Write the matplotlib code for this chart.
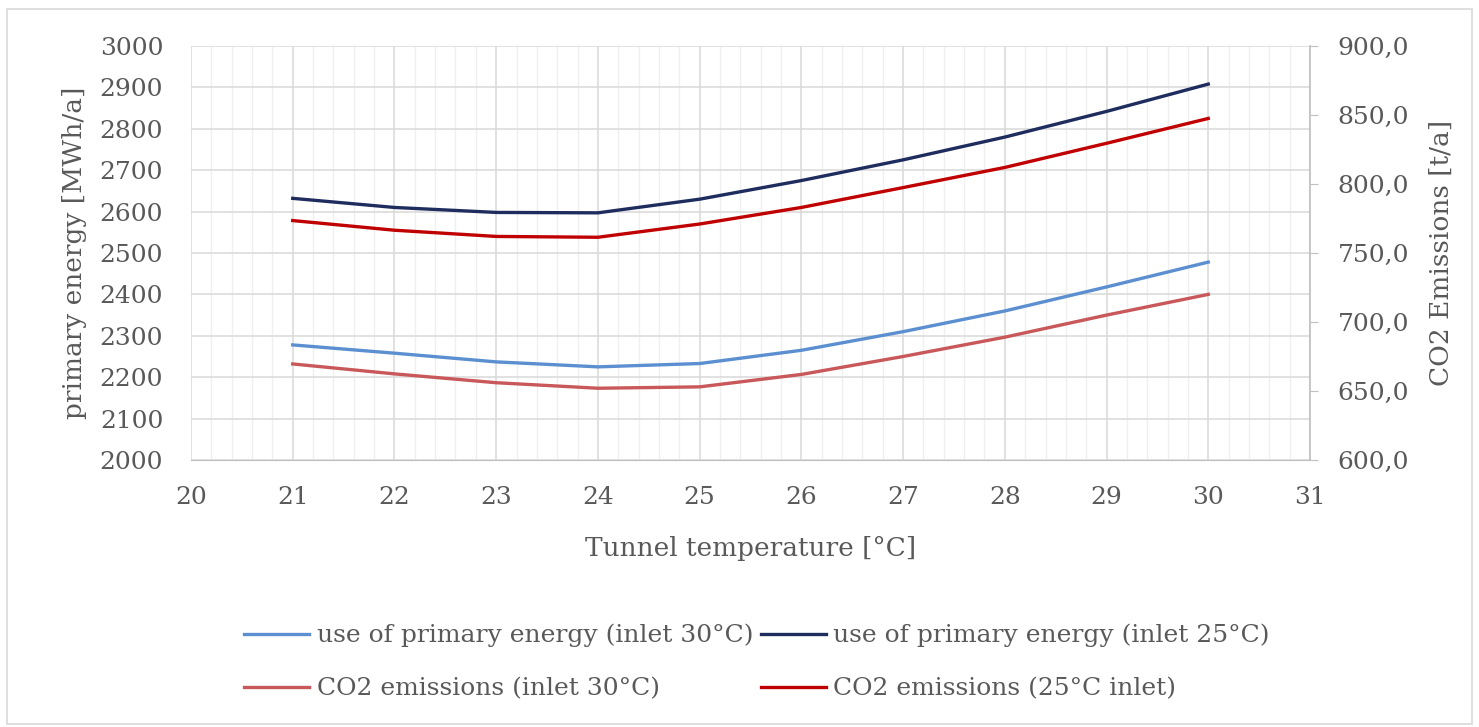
import matplotlib
matplotlib.use("Agg")
import matplotlib.pyplot as plt
from matplotlib.ticker import MultipleLocator, FuncFormatter
from matplotlib.patches import Rectangle

plt.rcParams['font.family'] = ['DejaVu Serif']

temps = [21, 22, 23, 24, 25, 26, 27, 28, 29, 30]
pe_inlet30 = [2278, 2258, 2237, 2225, 2233, 2265, 2310, 2360, 2418, 2478]
pe_inlet25 = [2632, 2610, 2598, 2597, 2630, 2675, 2725, 2780, 2842, 2908]
co2_inlet30 = [669.6, 662.4, 656.0, 652.0, 653.0, 662.0, 675.0, 689.0, 705.0, 720.0]
co2_inlet25 = [773.5, 766.5, 762.0, 761.4, 771.0, 783.0, 797.4, 812.0, 829.5, 847.5]

labels = ["use of primary energy (inlet 30°C)", "use of primary energy (inlet 25°C)",
          "CO2 emissions (inlet 30°C)", "CO2 emissions (25°C inlet)"]
colors = ["#5b8fd0", "#1f2d5e", "#c8585a", "#c00000"]

txt = "#595959"
W, H = 1479, 727
fig = plt.figure(figsize=(W / 100, H / 100), dpi=100)
fig.patches.append(Rectangle((7 / W, 3 / H), 1465 / W, 715 / H, transform=fig.transFigure,
                             fill=False, edgecolor="#d9d9d9", linewidth=1.2))

ax = fig.add_axes([191 / W, 1 - 460 / H, (1310 - 191) / W, (460 - 46) / H])
ax2 = ax.twinx()

ax.set_xlim(20, 31)
ax.set_ylim(2000, 3000)
ax2.set_ylim(600, 900)

ax.xaxis.set_major_locator(MultipleLocator(1))
ax.xaxis.set_minor_locator(MultipleLocator(0.2))
ax.yaxis.set_major_locator(MultipleLocator(100))
ax2.yaxis.set_major_locator(MultipleLocator(50))
ax2.yaxis.set_major_formatter(FuncFormatter(lambda v, p: f"{v:.1f}".replace(".", ",")))

ax.grid(which="major", axis="both", color="#d9d9d9", linewidth=1.1)
ax.grid(which="minor", axis="x", color="#efefef", linewidth=0.9)
ax.set_axisbelow(True)

for s in ["top", "left"]:
    ax.spines[s].set_visible(False)
    ax2.spines[s].set_visible(False)
ax.spines["right"].set_visible(False)
ax.spines["bottom"].set_color("#bfbfbf")
ax2.spines["bottom"].set_visible(False)
ax2.spines["right"].set_color("#bfbfbf")
ax2.spines["right"].set_linewidth(1.2)

ax.tick_params(axis="both", which="both", length=0, labelsize=18, labelcolor=txt)
ax.tick_params(axis="y", pad=20)
ax.tick_params(axis="x", pad=19)
ax2.tick_params(axis="y", length=6, color="#bfbfbf", labelsize=18, labelcolor=txt, pad=14)

l1, = ax.plot(temps, pe_inlet30, color=colors[0], lw=2.4, label=labels[0])
l2, = ax.plot(temps, pe_inlet25, color=colors[1], lw=2.4, label=labels[1])
l3, = ax2.plot(temps, co2_inlet30, color=colors[2], lw=2.4, label=labels[2])
l4, = ax2.plot(temps, co2_inlet25, color=colors[3], lw=2.4, label=labels[3])

ax.set_xlabel("Tunnel temperature [°C]", fontsize=19, color=txt, labelpad=19)
ax.set_ylabel("primary energy [MWh/a]", fontsize=19, color=txt, labelpad=9)
ax2.set_ylabel("CO2 Emissions [t/a]", fontsize=19, color=txt, labelpad=14)

# matplotlib fills legend columns first: order so rows read as in the reference
leg = fig.legend(handles=[l1, l3, l2, l4], labels=[labels[0], labels[2], labels[1], labels[3]],
                 ncol=2, loc="center",
                 bbox_to_anchor=(757 / W, 1 - 662 / H), frameon=False, fontsize=18,
                 handlelength=2.6, handletextpad=0.3, columnspacing=0.3,
                 labelspacing=1.2)
for t in leg.get_texts():
    t.set_color(txt)

fig.savefig("out.png", dpi=100)
